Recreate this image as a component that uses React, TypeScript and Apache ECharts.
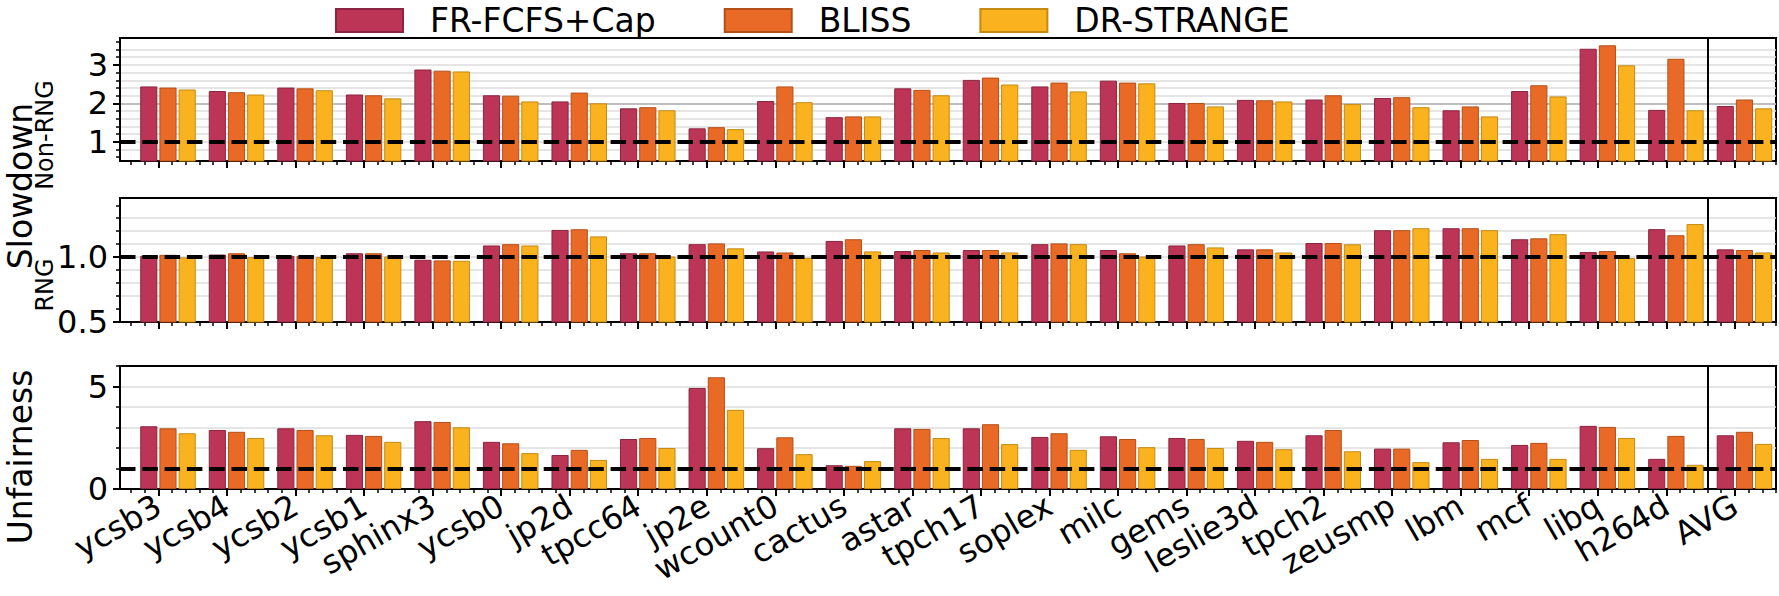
import React, { useEffect, useRef } from 'react';
import * as echarts from 'echarts';

const categories = ['ycsb3', 'ycsb4', 'ycsb2', 'ycsb1', 'sphinx3', 'ycsb0', 'jp2d', 'tpcc64', 'jp2e', 'wcount0', 'cactus', 'astar', 'tpch17', 'soplex', 'milc', 'gems', 'leslie3d', 'tpch2', 'zeusmp', 'lbm', 'mcf', 'libq', 'h264d', 'AVG'];
const seriesNames = ['FR-FCFS+Cap', 'BLISS', 'DR-STRANGE'];

const nonRngFrfcfs = [2.44, 2.32, 2.41, 2.23, 2.88, 2.21, 2.05, 1.87, 1.35, 2.06, 1.64, 2.39, 2.61, 2.44, 2.59, 2.01, 2.09, 2.10, 2.14, 1.82, 2.32, 3.42, 1.83, 1.93];
const nonRngBliss = [2.41, 2.29, 2.39, 2.21, 2.85, 2.20, 2.28, 1.90, 1.38, 2.44, 1.66, 2.35, 2.67, 2.54, 2.54, 2.01, 2.08, 2.21, 2.16, 1.92, 2.47, 3.51, 3.16, 2.10];
const nonRngStrange = [2.36, 2.23, 2.34, 2.13, 2.83, 2.05, 2.00, 1.82, 1.33, 2.03, 1.66, 2.21, 2.49, 2.31, 2.52, 1.92, 2.05, 1.98, 1.90, 1.66, 2.18, 2.99, 1.82, 1.87];

const rngFrfcfs = [1.01, 1.02, 1.01, 1.03, 0.98, 1.09, 1.21, 1.03, 1.10, 1.044, 1.125, 1.047, 1.055, 1.10, 1.055, 1.09, 1.06, 1.109, 1.208, 1.223, 1.138, 1.039, 1.216, 1.06];
const rngBliss = [1.018, 1.03, 1.01, 1.03, 0.975, 1.10, 1.215, 1.03, 1.106, 1.036, 1.138, 1.055, 1.055, 1.106, 1.03, 1.10, 1.06, 1.109, 1.208, 1.223, 1.145, 1.047, 1.169, 1.055];
const rngStrange = [0.998, 1.0, 1.0, 1.005, 0.972, 1.09, 1.16, 1.005, 1.068, 0.995, 1.044, 1.036, 1.036, 1.10, 1.005, 1.075, 1.036, 1.099, 1.223, 1.208, 1.177, 0.993, 1.255, 1.036];

const unfairFrfcfs = [3.06, 2.88, 2.96, 2.64, 3.31, 2.30, 1.66, 2.44, 4.93, 1.99, 1.16, 2.96, 2.96, 2.54, 2.57, 2.49, 2.35, 2.62, 1.97, 2.28, 2.15, 3.08, 1.47, 2.62];
const unfairBliss = [2.96, 2.79, 2.88, 2.59, 3.27, 2.23, 1.91, 2.49, 5.45, 2.52, 1.13, 2.93, 3.16, 2.72, 2.44, 2.44, 2.30, 2.88, 1.97, 2.39, 2.25, 3.03, 2.59, 2.79];
const unfairStrange = [2.72, 2.49, 2.62, 2.30, 3.01, 1.75, 1.42, 2.00, 3.86, 1.70, 1.36, 2.49, 2.19, 1.91, 2.04, 2.00, 1.94, 1.84, 1.31, 1.47, 1.47, 2.49, 1.18, 2.20];

const nonRngMajorTicks = [1, 2, 3];
const rngMajorTicks = [0.5, 1.0];
const unfairMajorTicks = [0, 5];

const FONT = 'DejaVu Sans';
const COLORS = ['#BD3556', '#E96A26', '#FBB21F'];
const EDGES = ['#8A2440', '#B44F18', '#C48A12'];

function stepTicks(min: number, max: number, step: number): number[] {
  const out: number[] = [];
  const start = Math.ceil(min / step - 1e-9);
  const end = Math.floor(max / step + 1e-9);
  for (let k = start; k <= end; k++) out.push(Math.round(k * step * 1000) / 1000);
  return out;
}

const PLOT_LEFT = 120;
const PLOT_WIDTH = 1656;
const X_MIN = -0.56;
const X_MAX = 23.6;
const GROUP_SHIFT = 0.14;

export default function App() {
  const ref = useRef<HTMLDivElement>(null);
  useEffect(() => {
    if (!ref.current) return;
    const chart = echarts.init(ref.current, undefined, { renderer: 'svg' });

    const panels = [
      { top: 38, height: 123, min: 0.5, max: 3.7, step: 0.2, major: nonRngMajorTicks, data: [nonRngFrfcfs, nonRngBliss, nonRngStrange], fmt: (v: number) => String(v) },
      { top: 198, height: 124, min: 0.5, max: 1.456, step: 0.1, major: rngMajorTicks, data: [rngFrfcfs, rngBliss, rngStrange], fmt: (v: number) => v.toFixed(1) },
      { top: 366, height: 123, min: 0, max: 6, step: 1, major: unfairMajorTicks, data: [unfairFrfcfs, unfairBliss, unfairStrange], fmt: (v: number) => String(v) },
    ];

    const unit = PLOT_WIDTH / (X_MAX - X_MIN);
    const barLeft = PLOT_LEFT + (GROUP_SHIFT - X_MIN - 0.5) * unit;
    const barWidthPx = categories.length * unit;

    const majorX = categories.map((_, i) => i);
    const minorX = stepTicks(X_MIN, X_MAX, 0.2).filter((v) => Math.abs(v - Math.round(v)) > 1e-6);
    const sepX = categories.length - 1 - 0.4;

    const grid: any[] = [];
    const xAxis: any[] = [];
    const yAxis: any[] = [];
    const series: any[] = [];

    panels.forEach((p, pi) => {
      const gMain = pi * 2;
      const gBar = pi * 2 + 1;
      grid.push({ left: PLOT_LEFT, width: PLOT_WIDTH, top: p.top, height: p.height, show: true, borderColor: '#000', borderWidth: 2, backgroundColor: 'transparent', outerBoundsMode: 'none', containLabel: false });
      grid.push({ left: barLeft, width: barWidthPx, top: p.top, height: p.height, show: false, outerBoundsMode: 'none', containLabel: false });
      const isBottom = pi === panels.length - 1;
      const xBase = xAxis.length;
      xAxis.push({
        type: 'value', gridIndex: gMain, min: X_MIN, max: X_MAX, position: 'bottom',
        axisLine: { show: true, onZero: false, lineStyle: { color: '#000', width: 2 } },
        axisTick: { show: true, customValues: minorX, length: 4, lineStyle: { color: '#000', width: 1.5 } },
        axisLabel: { show: false },
        splitLine: { show: false },
      });
      xAxis.push({
        type: 'value', gridIndex: gMain, min: X_MIN, max: X_MAX, position: 'bottom',
        axisLine: { show: false, onZero: false },
        axisTick: { show: true, customValues: majorX, length: 7, lineStyle: { color: '#000', width: 2 } },
        axisLabel: isBottom ? {
          show: true, customValues: majorX, rotate: 30, margin: 14,
          formatter: (v: number) => categories[Math.round(v)] ?? '',
          fontSize: 32, fontFamily: FONT, color: '#000',
        } : { show: false },
        splitLine: { show: false },
      });
      xAxis.push({
        type: 'category', gridIndex: gBar, data: categories, position: 'bottom',
        axisLine: { show: false, onZero: false }, axisTick: { show: false }, axisLabel: { show: false }, splitLine: { show: false },
      });
      const yBase = yAxis.length;
      const minorY = stepTicks(p.min, p.max, p.step).filter((v) => v > p.min + 1e-6);
      yAxis.push({
        type: 'value', gridIndex: gMain, min: p.min, max: p.max, position: 'left',
        axisLine: { show: true, onZero: false, lineStyle: { color: '#000', width: 2 } },
        axisTick: { show: true, customValues: minorY, length: 4, lineStyle: { color: '#000', width: 1.5 } },
        axisLabel: { show: false },
        splitLine: { show: true, showMinLine: false, showMaxLine: false, lineStyle: { color: '#dcdcdc', width: 1.6 } },
      });
      yAxis.push({
        type: 'value', gridIndex: gMain, min: p.min, max: p.max, position: 'left',
        axisLine: { show: false, onZero: false },
        axisTick: { show: true, customValues: p.major, length: 7, lineStyle: { color: '#000', width: 2 } },
        axisLabel: { show: true, customValues: p.major, formatter: p.fmt, margin: 12, fontSize: 32, fontFamily: FONT, color: '#000' },
        splitLine: { show: true, showMinLine: false, showMaxLine: false, lineStyle: { color: '#b0b0b0', width: 1.6 } },
      });
      yAxis.push({
        type: 'value', gridIndex: gBar, min: p.min, max: p.max, position: 'left',
        axisLine: { show: false, onZero: false }, axisTick: { show: false }, axisLabel: { show: false }, splitLine: { show: false },
      });
      p.data.forEach((vals, si) => {
        series.push({
          type: 'bar', name: seriesNames[si], xAxisIndex: xBase + 2, yAxisIndex: yBase + 2,
          data: vals,
          barWidth: '25%', barGap: '12%', z: 2,
          itemStyle: { color: COLORS[si], borderColor: EDGES[si], borderWidth: 1 },
          emphasis: { disabled: true },
        });
      });
      series.push({
        type: 'line', name: 'ref-' + pi, xAxisIndex: xBase, yAxisIndex: yBase, data: [], z: 5,
        showSymbol: false, silent: true,
        markLine: {
          silent: true, symbol: 'none', label: { show: false }, animation: false, z: 5,
          data: [
            { yAxis: 1, lineStyle: { color: '#000', width: 4.2, type: [15.5, 6.8] } },
            { xAxis: sepX, lineStyle: { color: '#000', width: 2, type: 'solid' } },
          ],
        },
      });
    });

    chart.setOption({
      animation: false,
      backgroundColor: '#fff',
      textStyle: { fontFamily: FONT },
      legend: {
        data: seriesNames, left: 335, top: 4, padding: 0,
        itemWidth: 67, itemHeight: 23, itemGap: 68, icon: 'rect',
        textStyle: { fontSize: 33, lineHeight: 30, fontFamily: FONT, color: '#000', padding: [0, 0, 0, 22] },
      },
      grid, xAxis, yAxis, series,
      graphic: [
        { type: 'text', x: 20, y: 186, rotation: Math.PI / 2, style: { text: 'Slowdown', fontSize: 33, lineHeight: 26, fontFamily: FONT, fill: '#000', align: 'center', verticalAlign: 'middle' } },
        { type: 'text', x: 45, y: 135, rotation: Math.PI / 2, style: { text: 'Non-RNG', fontSize: 24, lineHeight: 20, fontFamily: FONT, fill: '#000', align: 'center', verticalAlign: 'middle' } },
        { type: 'text', x: 45, y: 285, rotation: Math.PI / 2, style: { text: 'RNG', fontSize: 24, lineHeight: 20, fontFamily: FONT, fill: '#000', align: 'center', verticalAlign: 'middle' } },
        { type: 'text', x: 20, y: 457, rotation: Math.PI / 2, style: { text: 'Unfairness', fontSize: 33, lineHeight: 26, fontFamily: FONT, fill: '#000', align: 'center', verticalAlign: 'middle' } },
      ],
    });
    return () => chart.dispose();
  }, []);
  return <div ref={ref} style={{ position: 'absolute', left: 0, top: 0, width: 1779, height: 596 }} />;
}
